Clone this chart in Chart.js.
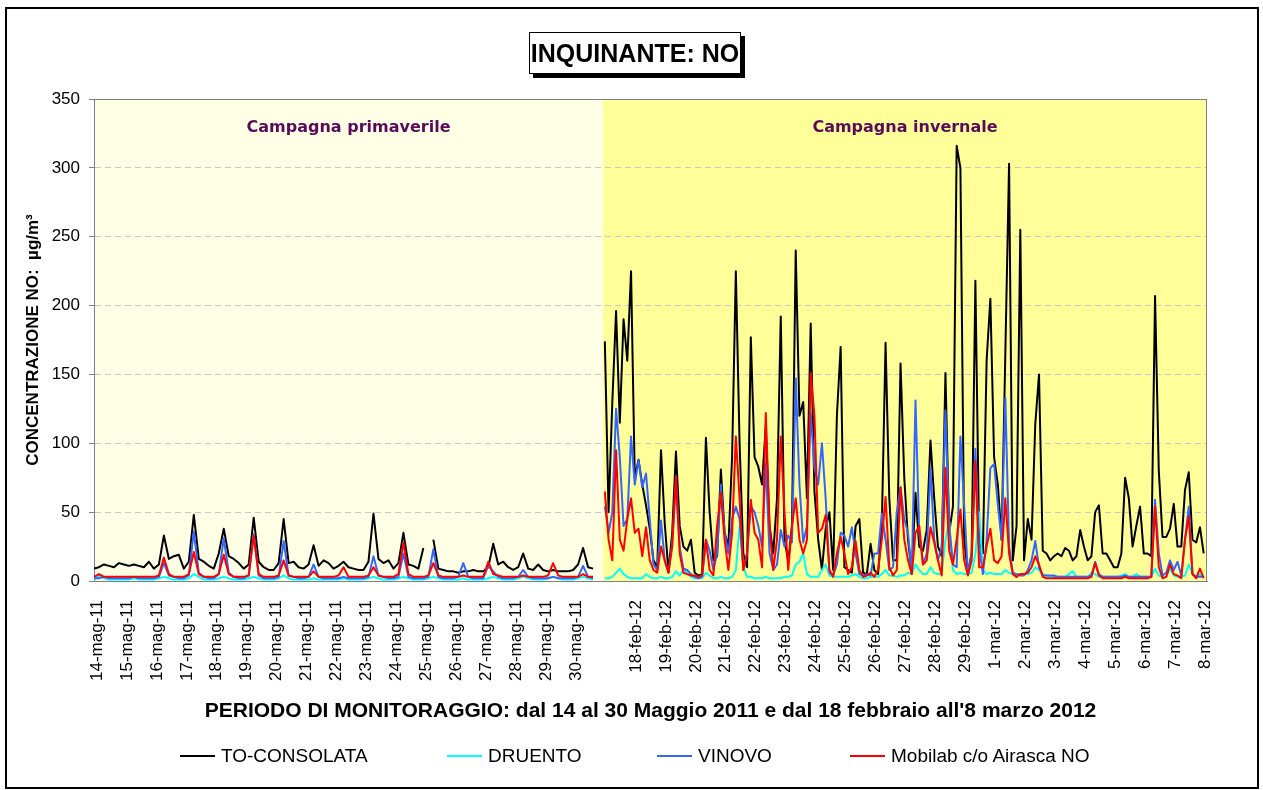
<!DOCTYPE html>
<html>
<head>
<meta charset="utf-8">
<script src="https://cdn.jsdelivr.net/npm/chart.js@4/dist/chart.umd.min.js"></script>
<style>
  body { margin: 0; background: #fff; overflow: hidden; font-family: "Liberation Sans", Arial, sans-serif; }
  #wrap { position: absolute; left: 0; top: 0; width: 1263px; height: 790px; }
  #frame { position: absolute; left: 5px; top: 7px; width: 1250px; height: 778px; border: 2px solid #000; pointer-events: none; }
  #title { position: absolute; left: 529px; top: 32px; width: 210px; height: 40px; border: 1px solid #000; background: #fff;
           box-shadow: 4px 4px 0 #000; font: bold 25px "Liberation Sans", Arial, sans-serif; line-height: 40px; text-align: center; }
  .leg { position: absolute; top: 744px; font: 19px "Liberation Sans", Arial, sans-serif; line-height: 24px; white-space: nowrap; }
  .leg span { display: inline-block; width: 35px; height: 2px; vertical-align: middle; margin-right: 6px; position: relative; top: -1px; }
</style>
</head>
<body>
<div id="wrap"><canvas id="chart"></canvas></div>
<div id="frame"></div>
<div id="title">INQUINANTE: NO</div>
<div class="leg" style="left:180px"><span style="background:#000"></span>TO-CONSOLATA</div>
<div class="leg" style="left:447px"><span style="background:#00ffff"></span>DRUENTO</div>
<div class="leg" style="left:657px"><span style="background:#3366ff"></span>VINOVO</div>
<div class="leg" style="left:850px"><span style="background:#ff0000"></span>Mobilab c/o Airasca NO</div>
<script>
// tick labels, one per day (index 17 is the gap between the two campaigns)
const xLabels = [
  '14-mag-11', '15-mag-11', '16-mag-11', '17-mag-11', '18-mag-11', '19-mag-11', '20-mag-11',
  '21-mag-11', '22-mag-11', '23-mag-11', '24-mag-11', '25-mag-11', '26-mag-11', '27-mag-11',
  '28-mag-11', '29-mag-11', '30-mag-11', '',
  '18-feb-12', '19-feb-12', '20-feb-12', '21-feb-12', '22-feb-12', '23-feb-12', '24-feb-12',
  '25-feb-12', '26-feb-12', '27-feb-12', '28-feb-12', '29-feb-12',
  '1-mar-12', '2-mar-12', '3-mar-12', '4-mar-12', '5-mar-12', '6-mar-12', '7-mar-12', '8-mar-12'
];

// spring campaign: one value every 4 hours, from day -0.1
const springStart = -0.1;
const springStep = 1 / 6;
// winter campaign: one value every 3 hours, from day 16.96
const winterStart = 16.96;
const winterStep = 1 / 8;

const springConsolata = [
  9, 10, 12, 11, 10, 13,
  12, 11, 12, 11, 10, 14,
  9, 12, 33, 16, 18, 19,
  9, 14, 48, 16, 14, 11,
  9, 20, 38, 18, 16, 13,
  9, 12, 46, 14, 10, 8,
  8, 13, 45, 13, 14, 10,
  9, 12, 26, 11, 15, 13,
  9, 11, 14, 10, 9, 8,
  8, 14, 49, 16, 13, 15,
  9, 13, 35, 12, 11, 9,
  24, null, 30, 9, 8, 7,
  7, 6, 7, 7, 8, 7,
  7, 10, 27, 12, 14, 10,
  8, 10, 20, 9, 8, 12,
  8, 7, 8, 7, 7, 7,
  8, 12, 24, 10, 9
];
const springDruento = [
  1, 4, 2, 1, 1, 1,
  1, 1, 2, 1, 1, 1,
  1, 2, 3, 2, 1, 1,
  1, 2, 5, 3, 1, 1,
  1, 2, 3, 2, 1, 1,
  1, 2, 3, 2, 1, 1,
  1, 2, 4, 2, 1, 1,
  1, 1, 2, 1, 1, 1,
  1, 1, 2, 1, 1, 1,
  1, 2, 3, 2, 1, 1,
  1, 2, 3, 2, 1, 1,
  1, 2, 3, 2, 1, 1,
  1, 1, 2, 1, 1, 1,
  1, 2, 3, 2, 1, 1,
  1, 2, 3, 2, 1, 1,
  1, 2, 3, 2, 1, 1,
  1, 2, 3, 2, 1
];
const springVinovo = [
  2, 2, 3, 2, 2, 2,
  2, 2, 3, 2, 2, 2,
  2, 3, 13, 4, 3, 2,
  2, 4, 36, 6, 3, 2,
  2, 5, 31, 6, 3, 2,
  2, 4, 34, 4, 2, 2,
  2, 3, 29, 4, 3, 2,
  2, 3, 12, 3, 2, 2,
  2, 2, 3, 2, 2, 2,
  2, 3, 18, 4, 3, 2,
  2, 3, 20, 3, 2, 2,
  2, 3, 23, 3, 2, 2,
  2, 3, 13, 3, 2, 2,
  2, 11, 7, 3, 2, 2,
  2, 3, 8, 3, 2, 2,
  2, 2, 3, 2, 2, 2,
  2, 3, 11, 3, 2
];
const springMobilab = [
  3, 5, 3, 3, 3, 3,
  3, 3, 3, 3, 3, 3,
  3, 4, 17, 5, 3, 3,
  3, 5, 21, 5, 3, 3,
  3, 5, 19, 5, 3, 3,
  3, 4, 33, 5, 3, 3,
  3, 4, 15, 4, 3, 3,
  3, 3, 7, 3, 3, 3,
  3, 4, 10, 3, 3, 3,
  3, 4, 10, 4, 3, 3,
  3, 5, 28, 5, 3, 3,
  3, 4, 13, 4, 3, 3,
  3, 3, 4, 3, 3, 3,
  3, 14, 5, 4, 3, 3,
  3, 3, 4, 3, 3, 3,
  3, 4, 13, 4, 3, 3,
  3, 3, 5, 3, 3
];

const winterConsolata = [
  174, 50, 130, 196, 115, 190, 160, 225,
  75, 88, 70, 55, 38, 15, 10, 95,
  42, 7, 35, 94, 40, 25, 22, 30,
  6, 4, 5, 104, 50, 15, 18, 81,
  35, 25, 90, 225, 100, 20, 10, 177,
  90, 83, 70, 113, 40, 20, 60, 192,
  30, 14, 40, 240, 120, 130, 60, 187,
  65, 30, 8, 38, 50, 8, 120, 170,
  10, 8, 6, 40, 45, 6, 5, 27,
  8, 5, 40, 173, 60, 15, 15, 158,
  75, 30, 6, 64, 25, 22, 37, 102,
  60, 25, 18, 151, 35, 54, 316, 300,
  30, 6, 20, 218, 30, 20, 160, 205,
  90, 70, 30, 165, 303, 15, 40, 255,
  15, 45, 30, 114, 150, 22, 20, 15,
  18, 20, 18, 24, 22, 15, 18, 37,
  25, 15, 18, 50, 55, 20, 20, 15,
  10, 10, 20, 75, 60, 25, 40, 54,
  20, 20, 18, 207, 80, 32, 32, 38,
  56, 25, 25, 66, 79, 30, 28, 39,
  20
];
const winterDruento = [
  2, 2, 3, 6, 9, 5, 3, 2,
  2, 2, 2, 5, 3, 2, 2, 3,
  2, 2, 3, 7, 4, 8, 6, 3,
  2, 2, 2, 6, 4, 2, 2, 3,
  2, 2, 3, 8, 40, 10, 3, 3,
  2, 2, 2, 3, 2, 2, 2, 2,
  3, 3, 4, 12, 14, 20, 5, 3,
  3, 3, 8, 12, 4, 3, 3, 3,
  3, 3, 4, 5, 3, 2, 2, 3,
  3, 3, 5, 8, 4, 4, 3, 4,
  4, 6, 5, 12, 8, 5, 5, 10,
  6, 5, 5, 30, 44, 8, 5, 6,
  5, 5, 6, 20, 50, 8, 5, 6,
  5, 5, 5, 8, 6, 5, 5, 5,
  5, 5, 6, 10, 8, 5, 4, 3,
  3, 3, 3, 3, 5, 7, 3, 3,
  3, 3, 6, 5, 3, 3, 3, 3,
  3, 3, 4, 5, 3, 3, 5, 3,
  3, 3, 3, 9, 4, 3, 3, 9,
  4, 3, 3, 4, 12, 5, 3, 5,
  3
];
const winterVinovo = [
  54, 35, 50, 125, 90, 40, 45, 105,
  70, 88, 68, 78, 45, 12, 8, 44,
  15, 6, 28, 73, 25, 9, 8, 5,
  3, 2, 3, 30, 22, 8, 20, 70,
  35, 20, 45, 54, 45, 8, 20, 54,
  50, 40, 25, 85, 20, 8, 12, 37,
  25, 33, 28, 147, 70, 28, 40, 122,
  82, 70, 100, 60, 6, 4, 12, 35,
  33, 25, 39, 20, 5, 4, 5, 4,
  20, 20, 49, 30, 8, 10, 50, 68,
  45, 35, 5, 131, 35, 12, 20, 82,
  30, 15, 25, 124, 40, 12, 10, 105,
  55, 5, 20, 96, 25, 5, 30, 82,
  85, 55, 30, 133, 25, 6, 5, 4,
  4, 8, 15, 29, 10, 4, 4, 4,
  4, 3, 3, 3, 3, 3, 3, 3,
  3, 3, 4, 14, 5, 3, 3, 3,
  3, 3, 3, 4, 3, 3, 3, 3,
  3, 3, 3, 59, 20, 4, 6, 15,
  8, 14, 4, 30, 54, 5, 3, 3,
  3
];
const winterMobilab = [
  65, 30, 15, 95, 30, 22, 45, 60,
  35, 38, 18, 39, 15, 8, 6, 25,
  15, 6, 25, 76, 20, 6, 5, 4,
  4, 3, 4, 30, 8, 4, 40, 64,
  30, 8, 35, 105, 60, 8, 20, 59,
  35, 30, 10, 122, 40, 8, 30, 105,
  50, 8, 40, 60, 30, 20, 30, 151,
  120, 35, 38, 48, 8, 3, 20, 32,
  20, 5, 10, 29, 8, 3, 4, 6,
  3, 8, 30, 61, 10, 4, 8, 68,
  30, 15, 5, 35, 40, 12, 15, 39,
  28, 15, 4, 82, 22, 12, 30, 52,
  15, 4, 15, 87, 10, 10, 25, 38,
  15, 13, 18, 60, 20, 5, 3, 5,
  5, 6, 10, 18, 12, 3, 2, 2,
  2, 2, 2, 2, 2, 2, 2, 2,
  2, 2, 3, 13, 4, 2, 2, 2,
  2, 2, 2, 3, 2, 2, 2, 2,
  2, 2, 3, 54, 10, 2, 3, 12,
  5, 4, 2, 30, 47, 5, 2, 9,
  2
];

const seriesNames = ['TO-CONSOLATA', 'DRUENTO', 'VINOVO', 'Mobilab c/o Airasca NO'];
const seriesColors = ['#000000', '#00ffff', '#3366ff', '#ff0000'];
const campaignNames = ['Campagna primaverile', 'Campagna invernale'];

// join the two campaigns with a break in between
function buildSeries(spring, winter) {
  const pts = spring.map((y, i) => ({ x: springStart + i * springStep, y: y }));
  pts.push({ x: 16.8, y: null });
  winter.forEach((y, i) => pts.push({ x: winterStart + i * winterStep, y: y }));
  return pts;
}

const campaignSplit = 16.9;

const backgroundPlugin = {
  id: 'campaigns',
  beforeDraw(chart) {
    const { ctx, chartArea: a, scales: { x } } = chart;
    const split = x.getPixelForValue(campaignSplit);
    ctx.save();
    ctx.fillStyle = '#ffffe6';
    ctx.fillRect(a.left, a.top, split - a.left, a.bottom - a.top);
    ctx.fillStyle = '#ffff99';
    ctx.fillRect(split, a.top, a.right - split, a.bottom - a.top);
    ctx.restore();
  },
  beforeDatasetsDraw(chart) {
    const { ctx, chartArea: a, scales: { x } } = chart;
    const split = x.getPixelForValue(campaignSplit);
    ctx.save();
    ctx.strokeStyle = '#808080';
    ctx.lineWidth = 1;
    ctx.strokeRect(a.left + 0.5, a.top + 0.5, a.right - a.left - 1, a.bottom - a.top);
    ctx.fillStyle = '#5a0a5a';
    ctx.font = 'bold 16px "DejaVu Sans", sans-serif';
    ctx.textAlign = 'center';
    ctx.textBaseline = 'middle';
    ctx.fillText(campaignNames[0], (a.left + split) / 2, a.top + 29);
    ctx.fillText(campaignNames[1], (split + a.right) / 2, a.top + 29);
    ctx.restore();
  }
};

Chart.defaults.font.family = '"Liberation Sans", Arial, sans-serif';
Chart.defaults.color = '#000';

const allSpring = [springConsolata, springDruento, springVinovo, springMobilab];
const allWinter = [winterConsolata, winterDruento, winterVinovo, winterMobilab];

new Chart(document.getElementById('chart'), {
  type: 'line',
  data: {
    datasets: seriesNames.map((name, i) => ({
      label: name,
      data: buildSeries(allSpring[i], allWinter[i]),
      borderColor: seriesColors[i],
      backgroundColor: seriesColors[i],
      borderWidth: 2,
      pointRadius: 0,
      tension: 0,
      borderJoinStyle: 'round',
      spanGaps: false,
      order: 4 - i
    }))
  },
  options: {
    responsive: true,
    maintainAspectRatio: false,
    animation: false,
    layout: { padding: { left: 0, top: 99, right: 56, bottom: 0 } },
    plugins: {
      legend: { display: false },
      tooltip: { enabled: false }
    },
    scales: {
      x: {
        type: 'linear',
        min: -0.1,
        max: 37.07,
        afterFit: (scale) => { scale.height = 209; },
        afterBuildTicks: (scale) => { scale.ticks = xLabels.map((l, i) => ({ value: i })); },
        grid: { display: false },
        border: { display: true, color: '#808080', width: 1 },
        ticks: {
          autoSkip: false,
          minRotation: 90,
          maxRotation: 90,
          padding: 11,
          font: { size: 17 },
          callback: (value) => xLabels[Math.round(value)]
        },
        title: {
          display: true,
          text: "PERIODO DI MONITORAGGIO: dal 14 al 30 Maggio 2011 e dal 18 febbraio all'8 marzo 2012",
          font: { size: 21, weight: 'bold' },
          padding: { top: 0, bottom: 66 }
        }
      },
      y: {
        min: 0,
        max: 350,
        afterFit: (scale) => { scale.width = 94; },
        ticks: { stepSize: 50, padding: 9, font: { size: 17 } },
        grid: {
          color: '#c8c8c8',
          lineWidth: 1,
          tickLength: 5,
          tickColor: '#808080',
          tickBorderDash: []
        },
        border: { display: true, color: '#808080', width: 1, dash: [6, 4] },
        title: {
          display: true,
          text: 'CONCENTRAZIONE NO:  µg/m³',
          font: { size: 17, weight: 'bold' },
          padding: { top: 23, bottom: 0 }
        }
      }
    }
  },
  plugins: [backgroundPlugin]
});
</script>
</body>
</html>
